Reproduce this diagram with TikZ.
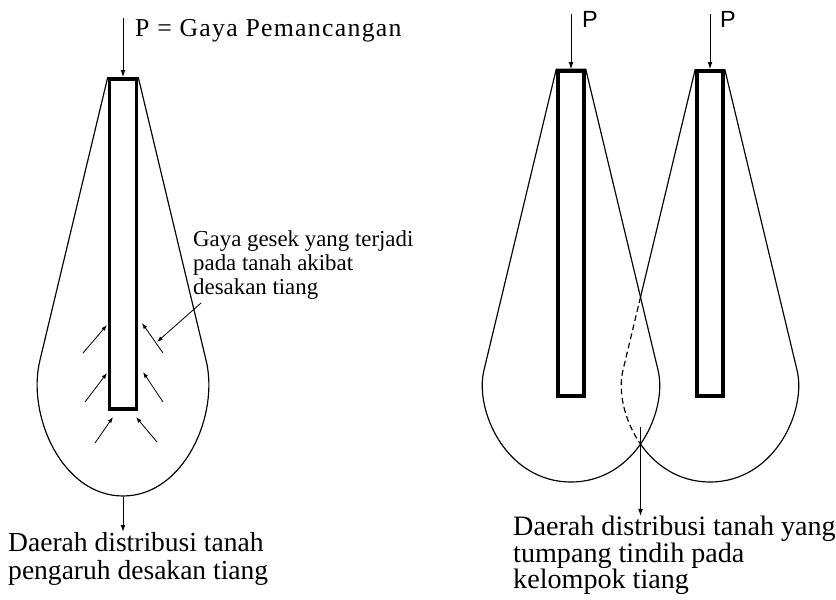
\documentclass[tikz,border=0pt]{standalone}
\usepackage{fontspec}
\setmainfont{Liberation Serif}
\newfontfamily\plabelfont{Liberation Sans}
\newfontfamily\spacedfont[LetterSpace=5]{Liberation Serif}
\usetikzlibrary{arrows.meta,calc}

\begin{document}
\begin{tikzpicture}[x=0.03cm, y=-0.03cm, >=Latex]
\tikzstyle{pile}=[draw, line width=3pt, fill=white, inner sep=0pt]
\tikzstyle{drop}=[line width=1pt]
\tikzstyle{arr}=[-{Latex[length=6pt,width=4pt]}, line width=0.8pt]
\tikzstyle{frc}=[-{Latex[length=5pt,width=3.5pt]}, line width=0.7pt]
\tikzstyle{lbl}=[inner sep=0pt, align=left, anchor=north west]

\useasboundingbox (0,0) rectangle (836,600);

% single pile
\node[pile, minimum width=0.81cm, minimum height=9.9cm] (pileL) at (123,244) {};
\draw[drop] (pileL.north west) -- (40,360) .. controls (26.4,415) and (62,496) .. (123,496)
  .. controls (184,496) and (219.6,415) .. (206,360) -- (pileL.north east);
\node[pile, minimum width=0.81cm, minimum height=9.9cm] at (pileL) {};

\coordinate (pL) at (123,18);
\draw[arr] (pL) -- (pileL.north);
\node[inner sep=0pt, anchor=base west, font=\spacedfont\fontsize{22}{22}\selectfont] (gaya) at (135,37) {P = Gaya Pemancangan};

% friction on the soil
\foreach \xa/\ya/\xb/\yb in {83/353/107/325, 85/402/107/373, 163/353/142/323, 163/402/143/372, 95/443/113/417, 157/442/136/417}
  \draw[frc] (\xa,\ya) -- (\xb,\yb);

\node[lbl, font=\fontsize{19.5}{20.5}\selectfont] (gesek) at (193,230) {Gaya gesek yang terjadi\\pada tanah akibat\\desakan tiang};
\coordinate (gesekfrom) at (201,303);
\coordinate (gesekto) at (157,342);
\draw[frc] (gesekfrom) -- (gesekto);

\coordinate (botL) at (123,497);
\node[lbl, font=\fontsize{23.5}{24}\selectfont] (txtL) at (8,532) {Daerah distribusi tanah\\pengaruh desakan tiang};
\draw[arr] (botL) -- (botL |- txtL.north);

% pile group
\node[pile, minimum width=0.78cm, minimum height=9.75cm] (pileA) at (571,233.5) {};
\node[pile, minimum width=0.78cm, minimum height=9.75cm] (pileB) at (710,233.5) {};

\draw[drop] (pileB.north west) -- (623,370) .. controls (613.1,410) and (645,482) .. (710,482)
  .. controls (775,482) and (806.9,410) .. (797,370) -- (pileB.north east);
\draw[drop, fill=white] (pileA.north west) -- (484,370) .. controls (474.1,410) and (506,482) .. (571,482)
  .. controls (636,482) and (667.9,410) .. (658,370) -- (pileA.north east) -- cycle;
\begin{scope}
  \clip (pileA.north west) -- (484,370) .. controls (474.1,410) and (506,482) .. (571,482)
    .. controls (636,482) and (667.9,410) .. (658,370) -- (pileA.north east) -- cycle;
  \draw[drop, dash pattern=on 5pt off 3pt] (pileB.north west) -- (623,370) .. controls (613.1,410) and (645,482) .. (710,482);
\end{scope}
\node[pile, minimum width=0.78cm, minimum height=9.75cm] at (pileA) {};
\node[pile, minimum width=0.78cm, minimum height=9.75cm] at (pileB) {};

\coordinate (pA) at (571,14);
\coordinate (pB) at (710,14);
\draw[arr] (pA) -- (pileA.north);
\draw[arr] (pB) -- (pileB.north);
\node[inner sep=0pt, anchor=base west, font=\plabelfont\fontsize{20}{20}\selectfont] (lblA) at (582,28) {P};
\node[inner sep=0pt, anchor=base west, font=\plabelfont\fontsize{20}{20}\selectfont] (lblB) at (720,28) {P};

\coordinate (meet) at (640.5,427);
\node[lbl, font=\fontsize{24}{22.6}\selectfont] (txtR) at (513,516) {Daerah distribusi tanah yang\\tumpang tindih pada\\kelompok tiang};
\draw[arr] (meet) -- (meet |- txtR.north);
\end{tikzpicture}
\end{document}
